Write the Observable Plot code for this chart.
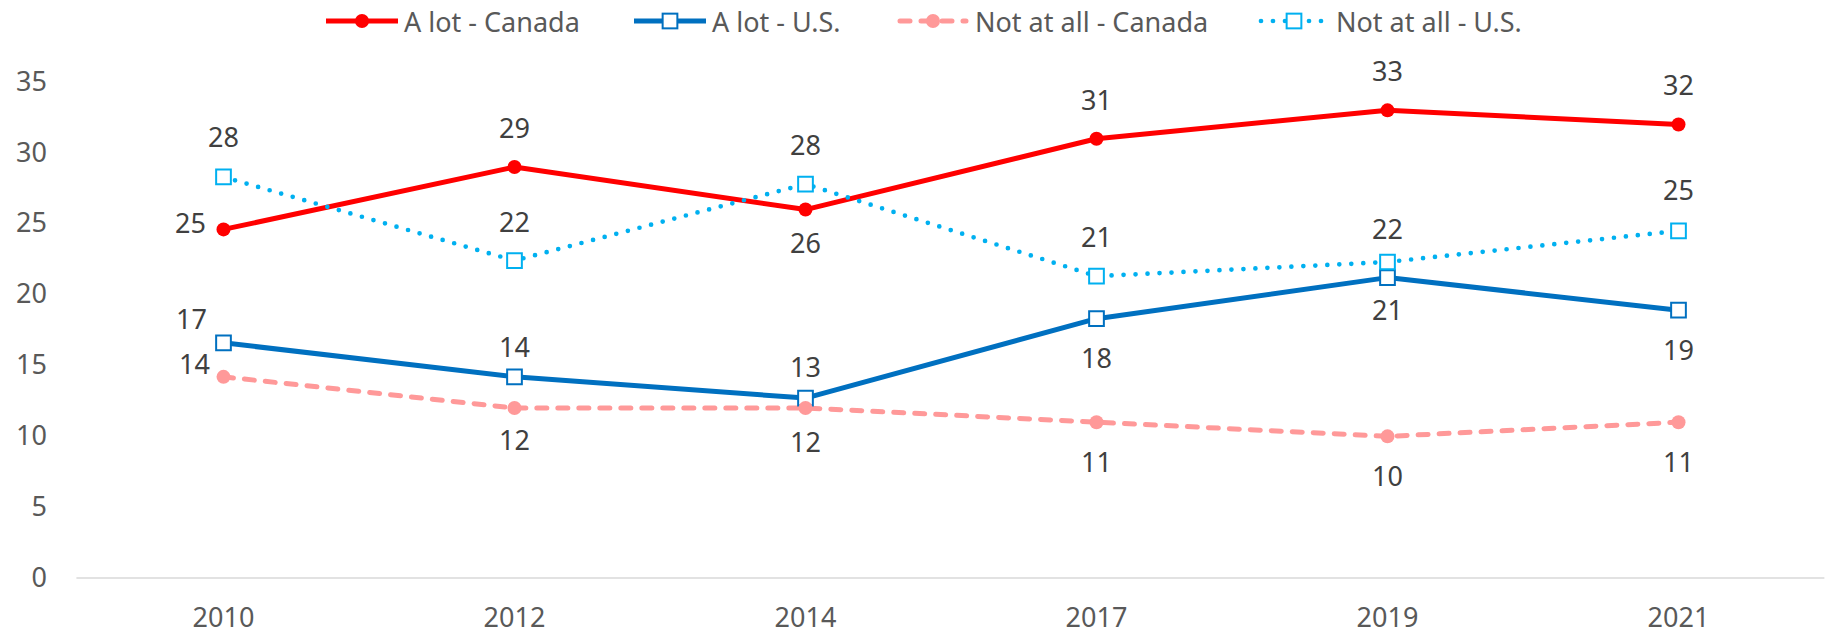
<!DOCTYPE html>
<html>
<head>
<meta charset="utf-8">
<script src="https://cdn.jsdelivr.net/npm/d3@7"></script>
<script src="https://cdn.jsdelivr.net/npm/@observablehq/plot@0.6"></script>
<style>
  html, body { margin: 0; padding: 0; background: #fff; }
  #wrap { position: relative; width: 1826px; height: 634px; font-family: "Noto Sans", sans-serif; }
  #legend { position: relative; height: 42px; width: 1826px; }
  .item { position: absolute; top: 0; height: 42px; display: flex; align-items: center; font-size: 27px; color: #595959; white-space: nowrap; }
  .item svg { margin-right: 6px; overflow: visible; }
</style>
</head>
<body>
<div id="wrap">
  <div id="legend"></div>
  <div id="chart"></div>
</div>
<script>
// ---- data ----
const years = ["2010", "2012", "2014", "2017", "2019", "2021"];
const seriesNames = ["A lot - Canada", "A lot - U.S.", "Not at all - Canada", "Not at all - U.S."];
const aLotCanada = [24.6, 29.0, 26.0, 31.0, 33.0, 32.0];
const aLotUS = [16.6, 14.2, 12.7, 18.3, 21.2, 18.9];
const notAtAllCanada = [14.2, 12.0, 12.0, 11.0, 10.0, 11.0];
const notAtAllUS = [28.3, 22.4, 27.8, 21.3, 22.3, 24.5];
const yTicks = [0, 5, 10, 15, 20, 25, 30, 35];

// ---- styles ----
const styles = [
  {stroke: "#FF0000", width: 5, dash: null, symbol: "circle", r: 7, fill: "#FF0000", mstroke: "none"},
  {stroke: "#0070C0", width: 5, dash: null, symbol: "square", r: 8.3, fill: "#ffffff", mstroke: "#0070C0"},
  {stroke: "#FF9999", width: 5, dash: "10 11", symbol: "circle", r: 7, fill: "#FF9999", mstroke: "none"},
  {stroke: "#00B0F0", width: 4.7, dash: "0 12", symbol: "square", r: 8.3, fill: "#ffffff", mstroke: "#00B0F0"}
];
// label offsets [dx, dy] per series per year
const labelOffsets = [
  [[-33, -5], [0, -38], [0, 35], [0, -37], [0, -38], [0, -38]],
  [[-32, -22], [0, -28], [0, -30], [0, 41], [0, 34], [0, 41]],
  [[-29, -11], [0, 33], [0, 35], [0, 41], [0, 41], [0, 41]],
  [[0, -39], [0, -37], [0, -38], [0, -38], [0, -32], [0, -39]]
];

const valuesBySeries = [aLotCanada, aLotUS, notAtAllCanada, notAtAllUS];
const rows = [];
valuesBySeries.forEach((vals, si) => {
  vals.forEach((v, i) => rows.push({series: seriesNames[si], si, year: years[i], value: v,
    dx: labelOffsets[si][i][0], dy: labelOffsets[si][i][1]}));
});

const marks = [];
marks.push(Plot.ruleY([0], {stroke: "#d9d9d9", strokeWidth: 1.5}));
styles.forEach((s, si) => {
  const d = rows.filter(r => r.si === si);
  marks.push(Plot.line(d, {x: "year", y: "value", stroke: s.stroke, strokeWidth: s.width,
    strokeDasharray: s.dash || undefined, strokeLinecap: s.dash ? "round" : "butt", strokeLinejoin: "round"}));
});
styles.forEach((s, si) => {
  const d = rows.filter(r => r.si === si);
  marks.push(Plot.dot(d, {x: "year", y: "value", symbol: s.symbol, r: s.r, fill: s.fill,
    stroke: s.mstroke, strokeWidth: s.mstroke === "none" ? 0 : 2}));
});
// labels grouped by offset
const groups = d3.groups(rows, r => r.dx + "," + r.dy);
groups.forEach(([key, d]) => {
  marks.push(Plot.text(d, {x: "year", y: "value", text: r => String(Math.round(r.value)),
    dx: d[0].dx, dy: d[0].dy, fill: "#404040", fontSize: 27}));
});

const chart = Plot.plot({
  width: 1826,
  height: 592,
  marginTop: 39.5,
  marginBottom: 56.4,
  marginLeft: 76.4,
  marginRight: 1.6,
  style: {fontFamily: "Noto Sans", fontSize: "27px", color: "#595959", background: "#fff"},
  x: {type: "point", domain: years, padding: 0.5, label: null, tickSize: 0, tickPadding: 30},
  y: {domain: [0, 35], ticks: yTicks, label: null, tickSize: 0, tickPadding: 30},
  marks
});
document.getElementById("chart").appendChild(chart);

// ---- legend ----
const legendX = [326, 634, 897, 1258];
const legend = document.getElementById("legend");
styles.forEach((s, si) => {
  const item = document.createElement("div");
  item.className = "item";
  item.style.left = legendX[si] + "px";
  const ns = "http://www.w3.org/2000/svg";
  const svg = document.createElementNS(ns, "svg");
  svg.setAttribute("width", 72); svg.setAttribute("height", 20);
  const line = document.createElementNS(ns, "line");
  line.setAttribute("x1", s.dash ? 3 : 0); line.setAttribute("x2", s.dash ? 69 : 72);
  line.setAttribute("y1", 10); line.setAttribute("y2", 10);
  line.setAttribute("stroke", s.stroke); line.setAttribute("stroke-width", s.width);
  if (s.dash) { line.setAttribute("stroke-dasharray", s.dash); line.setAttribute("stroke-linecap", "round"); }
  svg.appendChild(line);
  if (s.symbol === "circle") {
    const c = document.createElementNS(ns, "circle");
    c.setAttribute("cx", 36); c.setAttribute("cy", 10); c.setAttribute("r", s.r);
    c.setAttribute("fill", s.fill); svg.appendChild(c);
  } else {
    const side = s.r * Math.sqrt(Math.PI);
    const rc = document.createElementNS(ns, "rect");
    rc.setAttribute("x", 36 - side / 2); rc.setAttribute("y", 10 - side / 2);
    rc.setAttribute("width", side); rc.setAttribute("height", side);
    rc.setAttribute("fill", s.fill); rc.setAttribute("stroke", s.mstroke); rc.setAttribute("stroke-width", 2);
    svg.appendChild(rc);
  }
  item.appendChild(svg);
  const t = document.createElement("span");
  t.textContent = seriesNames[si];
  item.appendChild(t);
  legend.appendChild(item);
});
</script>
</body>
</html>
